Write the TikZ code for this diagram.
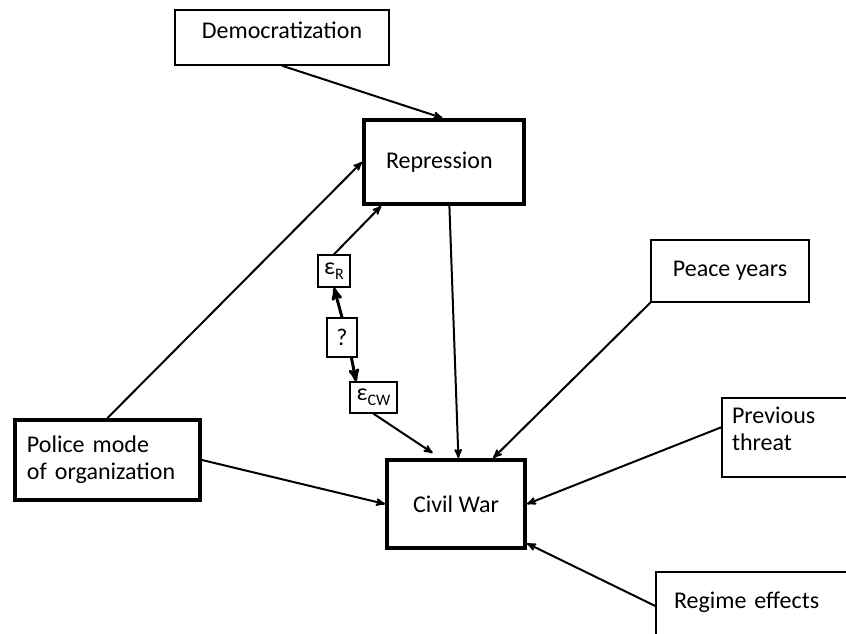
\documentclass[tikz,border=0pt]{standalone}
\usepackage{fontspec}
\setmainfont{Carlito}
\usetikzlibrary{arrows}
\tikzstyle{thinbox} = [rectangle, draw, line width=1.4pt, inner sep=3pt]
\tikzstyle{thickbox} = [rectangle, draw, line width=4pt, inner sep=3pt]
\tikzstyle{errbox} = [rectangle, draw, line width=1.4pt, inner sep=1pt]
\newcommand{\errterm}[1]{ε\raisebox{-0.45ex}{\fontsize{16}{16}\selectfont #1}}

\begin{document}
\begin{tikzpicture}[x=1pt,y=-1pt,->,>=stealth',line width=2pt,
                    font=\fontsize{24}{27}\selectfont]
  \useasboundingbox (0,0) rectangle (846,634);

  \node[thinbox,minimum width=214pt,minimum height=55pt,text depth=14pt] (dem) at (282,37.5) {Democratization};
  \node[thickbox,minimum width=160pt,minimum height=84pt,text width=116pt,inner xsep=20pt,align=left] (rep) at (444,162) {Repression};
  \node[thickbox,minimum width=138pt,minimum height=88pt] (cw) at (456,504) {Civil War};
  \node[thickbox,minimum width=185pt,minimum height=80pt,text width=161pt,inner xsep=12pt,align=left] (police) at (107.5,460) {Police mode\\of organization};
  \node[thinbox,minimum width=158pt,minimum height=62pt] (peace) at (730,271) {Peace years};
  \node[thinbox,minimum width=128pt,minimum height=79pt,text width=108pt,inner xsep=10pt,align=left,text depth=45pt] (prev) at (786,437.5) {Previous\\threat};
  \node[thinbox,minimum width=192pt,minimum height=68pt,text width=160pt,inner xsep=18pt,align=left,text depth=12pt] (regime) at (754,606) {Regime effects};
  \node[errbox,minimum width=32pt,minimum height=32pt] (epsR) at (334,271) {\errterm{R}};
  \node[errbox,minimum width=30pt,minimum height=39pt] (qm) at (342,337.5) {?};
  \node[errbox,minimum width=47pt,minimum height=31pt] (epsCW) at (373.5,397.5) {\errterm{CW}};

  \path (dem.south) edge (rep.92)
        (police.north) edge (rep.west)
        (epsR.north) edge (rep.215)
        (rep.-83) edge (cw.87)
        (epsCW.south) edge[shorten >=9pt] (cw.109)
        (police.east) edge (cw.west)
        (peace.south west) edge (cw.51)
        (prev.171) edge (cw.east)
        (regime.west) edge (cw.-29);
  \path[line width=3pt] (qm.north) edge (epsR.south)
        (qm.-65) edge (epsCW.137);
\end{tikzpicture}
\end{document}
